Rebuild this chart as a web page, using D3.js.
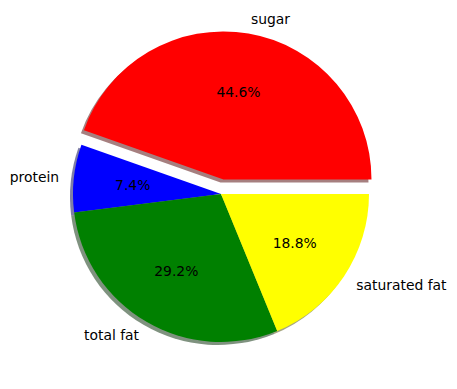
<!DOCTYPE html>
<html>
<head>
<meta charset="utf-8">
<script src="https://cdn.jsdelivr.net/npm/d3@7"></script>
<style>
  body { margin: 0; background: #fff; }
  text { font-family: "DejaVu Sans", sans-serif; font-size: 13.9px; fill: #000; }
</style>
</head>
<body>
<svg id="pie" width="457" height="389"></svg>
<script>
// data
const labels = ["sugar", "protein", "total fat", "saturated fat"];
const values = [44.6, 7.4, 29.2, 18.8];
const colors = ["red", "blue", "green", "yellow"];
const explode = [0.1, 0, 0, 0];

const svg = d3.select("#pie");
const cx = 221, cy = 194, radius = 148;
const total = d3.sum(values);

// counterclockwise from 3 o'clock, like matplotlib
const pie = d3.pie()
    .sort(null)
    .startAngle(Math.PI / 2)
    .endAngle(Math.PI / 2 - 2 * Math.PI);

const arcs = pie(values);
const arc = d3.arc().innerRadius(0).outerRadius(radius);

function offsetOf(d, i) {
    const mid = (d.startAngle + d.endAngle) / 2;
    const r = explode[i] * radius;
    return [r * Math.sin(mid), -r * Math.cos(mid)];
}

function shadowColor(c) {
    const rgb = d3.rgb(c);
    return d3.rgb(rgb.r * 0.3, rgb.g * 0.3, rgb.b * 0.3);
}

const g = svg.append("g").attr("transform", `translate(${cx},${cy})`);

// shadows below every wedge
g.append("g")
    .selectAll("path")
    .data(arcs)
    .enter()
    .append("path")
    .attr("d", arc)
    .attr("transform", (d, i) => {
        const o = offsetOf(d, i);
        return `translate(${o[0] - 3},${o[1] + 3})`;
    })
    .attr("fill", (d, i) => shadowColor(colors[i]))
    .attr("fill-opacity", 0.5);

// wedges
g.append("g")
    .selectAll("path")
    .data(arcs)
    .enter()
    .append("path")
    .attr("d", arc)
    .attr("transform", (d, i) => {
        const o = offsetOf(d, i);
        return `translate(${o[0]},${o[1]})`;
    })
    .attr("fill", (d, i) => colors[i]);

// outer labels
g.append("g")
    .selectAll("text")
    .data(arcs)
    .enter()
    .append("text")
    .attr("x", (d, i) => offsetOf(d, i)[0] + 1.1 * radius * Math.sin((d.startAngle + d.endAngle) / 2))
    .attr("y", (d, i) => offsetOf(d, i)[1] - 1.1 * radius * Math.cos((d.startAngle + d.endAngle) / 2))
    .attr("text-anchor", d => Math.sin((d.startAngle + d.endAngle) / 2) > 0 ? "start" : "end")
    .attr("dominant-baseline", "central")
    .text((d, i) => labels[i]);

// percentages
g.append("g")
    .selectAll("text")
    .data(arcs)
    .enter()
    .append("text")
    .attr("x", (d, i) => offsetOf(d, i)[0] + 0.6 * radius * Math.sin((d.startAngle + d.endAngle) / 2))
    .attr("y", (d, i) => offsetOf(d, i)[1] - 0.6 * radius * Math.cos((d.startAngle + d.endAngle) / 2))
    .attr("text-anchor", "middle")
    .attr("dominant-baseline", "central")
    .text(d => (d.value / total * 100).toFixed(1) + "%");
</script>
</body>
</html>
